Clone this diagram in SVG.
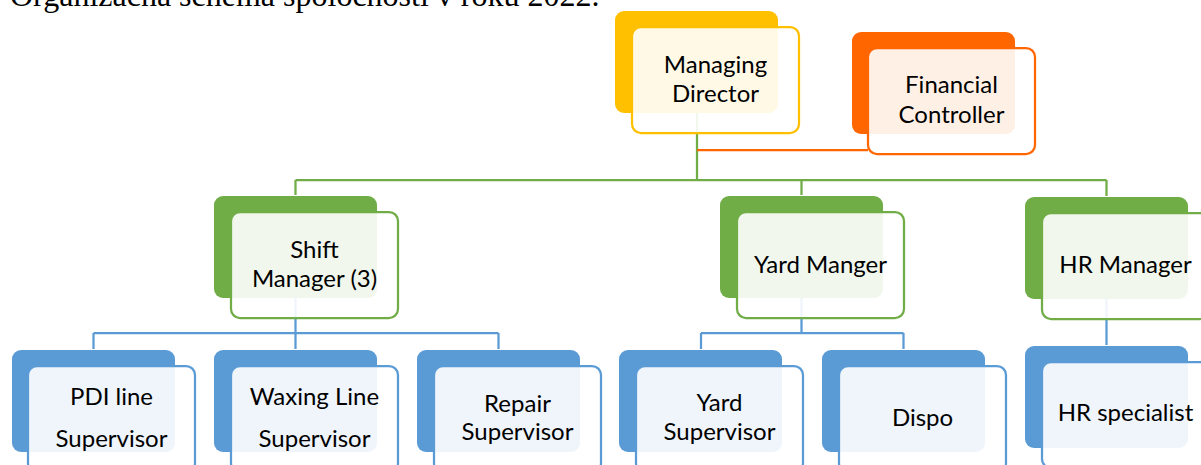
<svg xmlns="http://www.w3.org/2000/svg" width="1201" height="465" viewBox="0 0 1201 465">
<style>
.t{font-family:Lato,"Liberation Sans",sans-serif;font-size:24px;fill:#000;text-anchor:middle}
.title{font-family:"Liberation Serif",serif;font-size:32px;fill:#000}
.fr{fill:#fff;fill-opacity:0.9;stroke-width:2.25}
.c{fill:none;stroke-width:2.25}
.y .bk{fill:#FFC000}.y .fr{stroke:#FFC000}
.o .bk{fill:#FF6600}.o .fr{stroke:#FF6600}
.g .bk{fill:#70AD47}.g .fr{stroke:#70AD47}
.b .bk{fill:#5B9BD5}.b .fr{stroke:#5B9BD5}
</style>
<rect width="1201" height="465" fill="#fff"/>
<text class="title" x="10" y="6">Organizačná schéma spoločnosti v roku 2022.</text>
<g id="connectors">
<path class="c" stroke="#70AD47" d="M697,113V180M295.5,180H1106.5M295.5,180V195M801.5,180V195M1106.5,180V196"/>
<path class="c" stroke="#FF6600" d="M697,150H868"/>
<path class="c" stroke="#5B9BD5" d="M295.5,298V333M93.5,333H498.5M93.5,333V349M295.5,333V349M498.5,333V349M801.5,298V333M701,333H903.5M701,333V349M903.5,333V349M1106.5,299V345"/>
</g>
<g id="managing-director" class="y"><rect class="bk" x="615" y="11" width="163" height="102" rx="9"/><rect class="fr" x="632" y="27" width="167" height="106" rx="9"/><text class="t" x="715.5" y="73">Managing</text><text class="t" x="715.5" y="102">Director</text></g>
<g id="financial-controller" class="o"><rect class="bk" x="852" y="32" width="163" height="102" rx="9"/><rect class="fr" x="868" y="48" width="167" height="106" rx="9"/><text class="t" x="951.5" y="93">Financial</text><text class="t" x="951.5" y="123">Controller</text></g>
<g id="shift-manager" class="g"><rect class="bk" x="214" y="196" width="163" height="102" rx="9"/><rect class="fr" x="231" y="212" width="167" height="106" rx="9"/><text class="t" x="314.5" y="258">Shift</text><text class="t" x="314.5" y="287">Manager (3)</text></g>
<g id="yard-manager" class="g"><rect class="bk" x="720" y="196" width="163" height="102" rx="9"/><rect class="fr" x="737" y="212" width="167" height="106" rx="9"/><text class="t" x="820.5" y="273">Yard Manger</text></g>
<g id="hr-manager" class="g"><rect class="bk" x="1025" y="197" width="163" height="102" rx="9"/><rect class="fr" x="1042" y="213" width="167" height="106" rx="9"/><text class="t" x="1125.5" y="273">HR Manager</text></g>
<g id="pdi-line-supervisor" class="b"><rect class="bk" x="12" y="350" width="163" height="102" rx="9"/><rect class="fr" x="28" y="366" width="167" height="106" rx="9"/><text class="t" x="111.5" y="405">PDI line</text><text class="t" x="111.5" y="447">Supervisor</text></g>
<g id="waxing-line-supervisor" class="b"><rect class="bk" x="214" y="350" width="163" height="102" rx="9"/><rect class="fr" x="231" y="366" width="167" height="106" rx="9"/><text class="t" x="314.5" y="405">Waxing Line</text><text class="t" x="314.5" y="447">Supervisor</text></g>
<g id="repair-supervisor" class="b"><rect class="bk" x="417" y="350" width="163" height="102" rx="9"/><rect class="fr" x="434" y="366" width="167" height="106" rx="9"/><text class="t" x="517.5" y="412">Repair</text><text class="t" x="517.5" y="440">Supervisor</text></g>
<g id="yard-supervisor" class="b"><rect class="bk" x="619" y="350" width="163" height="102" rx="9"/><rect class="fr" x="636" y="366" width="167" height="106" rx="9"/><text class="t" x="719.5" y="411">Yard</text><text class="t" x="719.5" y="440">Supervisor</text></g>
<g id="dispo" class="b"><rect class="bk" x="822" y="350" width="163" height="102" rx="9"/><rect class="fr" x="839" y="366" width="167" height="106" rx="9"/><text class="t" x="922.5" y="426">Dispo</text></g>
<g id="hr-specialist" class="b"><rect class="bk" x="1025" y="346" width="163" height="102" rx="9"/><rect class="fr" x="1042" y="362" width="167" height="106" rx="9"/><text class="t" x="1125.5" y="421">HR specialist</text></g>
</svg>
